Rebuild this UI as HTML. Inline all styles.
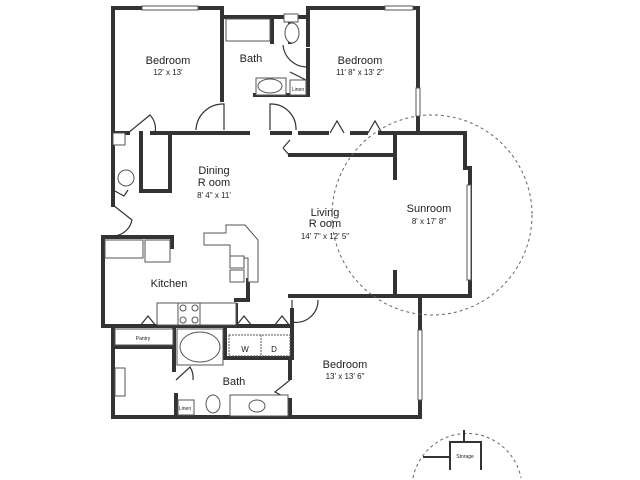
<!DOCTYPE html>
<html><head><meta charset="utf-8"><style>
html,body{margin:0;padding:0;background:#fff;width:640px;height:480px;overflow:hidden}
svg{display:block}
text{font-family:"Liberation Sans",sans-serif;fill:#222;text-anchor:middle}
.t{font-size:11px}.s{font-size:8px}.xs{font-size:5px}
</style></head><body>
<svg width="640" height="480" viewBox="0 0 640 480">
<g stroke="#333" stroke-width="4" fill="none" stroke-linecap="square">
<path d="M113 205 V8 H222 V100"/>
<path d="M222 17 H308 V8 H418 V133"/>
<path d="M113 133 H128 M152 133 H248 M272 133 H290"/>
<path d="M300 133 H327 M352 133 H366 M380 133 H465 V168 H470 V296 H290"/>
<path d="M290 155 H395 V178 M395 272 V296"/>
<path d="M395 133 V155"/>
<path d="M420 296 V417 H113 V326 H103 V237 H172 V247"/>
<path d="M141 133 V191 H170 V133"/>
<path d="M272 19 V42 M290 22 V42 M308 8 V45"/>
<path d="M222 17 V98 M255 95 H308 V50"/>
<path d="M103 326 H292 V358 H225 V326"/>
<path d="M236 305 V326"/>
<path d="M292 330 V310 M248 280 V300 H236"/>
<path d="M113 347 H174"/>
<path d="M174 326 V370 M176 395 V416"/>
<path d="M290 358 V378 M290 400 V416"/>
</g>
<g stroke="#555" stroke-width="1" fill="#fff">
<rect x="142" y="6" width="56" height="4"/>
<rect x="385" y="6" width="28" height="4"/>
<rect x="416" y="88" width="4" height="28"/>
<rect x="467" y="185" width="4" height="95"/>
<rect x="418" y="330" width="4" height="70"/>
</g>
<g stroke="#333" stroke-width="1.2" fill="none">
<path d="M196 130 A27 27 0 0 1 224 104 V130"/>
<path d="M296 130 A25 25 0 0 0 270 104 V130"/>
<path d="M283 45 A24 24 0 0 0 307 67"/>
<path d="M290 72 L306 80"/>
<path d="M128 133 L150 115 A20 20 0 0 1 155 133"/>
<path d="M113 205 L132 220 A20 20 0 0 1 113 236"/>
<path d="M292 300 V322 A22 22 0 0 0 318 300"/>
<path d="M176 380 L190 367 A20 20 0 0 1 193 380"/>
<path d="M290 400 L275 392 L290 380"/>
<path d="M140 326 L148 316 L156 326 M236 326 L244 316 L252 326 M274 326 L282 316 L290 326"/>
<path d="M330 133 L337 121 L344 133 M368 133 L375 121 L382 133"/>
<path d="M283 148 L290 140 M283 148 L290 156"/>
<path d="M113 190 L124 196 L128 190"/>
</g>
<g stroke="#555" stroke-width="1" fill="#fff">
<rect x="226" y="19" width="44" height="22"/>
<rect x="284" y="14" width="14" height="8"/>
<ellipse cx="292" cy="33" rx="7" ry="10"/>
<rect x="256" y="78" width="30" height="17"/>
<ellipse cx="270" cy="86" rx="12" ry="7"/>
<rect x="290" y="80" width="16" height="15"/>
<rect x="113" y="133" width="12" height="12"/>
<circle cx="126" cy="178" r="8"/>
<rect x="105" y="240" width="38" height="18"/>
<rect x="145" y="240" width="25" height="22"/>
<path d="M204 233 H226 V225 H245 L258 240 V282 H248 V258 H230 V245 H204 Z"/>
<rect x="230" y="256" width="14" height="12"/><rect x="230" y="270" width="14" height="12"/>
<rect x="157" y="303" width="79" height="22"/>
<rect x="178" y="303" width="22" height="22"/>
<circle cx="183" cy="308" r="3"/><circle cx="195" cy="308" r="3"/><circle cx="183" cy="320" r="3"/><circle cx="195" cy="320" r="3"/>
<rect x="115" y="329" width="58" height="16"/>
<rect x="177" y="329" width="46" height="36"/>
<ellipse cx="200" cy="347" rx="20" ry="15"/>
<rect x="115" y="368" width="10" height="28"/>
<rect x="229" y="335" width="61" height="21" stroke-dasharray="2 1"/>
<line x1="261" y1="335" x2="261" y2="356" stroke-dasharray="2 1"/>
<rect x="178" y="400" width="16" height="15"/>
<ellipse cx="213" cy="404" rx="7" ry="9"/>
<rect x="230" y="395" width="58" height="21"/>
<ellipse cx="257" cy="406" rx="8" ry="6"/>
</g>
<g stroke="#666" stroke-width="1" fill="none" stroke-dasharray="3 3">
<circle cx="432" cy="215" r="100"/>
<path d="M413 478 A55 55 0 0 1 521 478"/>
</g>
<g stroke="#333" stroke-width="2" fill="none">
<path d="M423 457 H450 M450 470 V442 H481 V470 M464 442 V430"/>
</g>
<text class="t" x="168" y="64">Bedroom</text><text class="s" x="168" y="75">12' x 13'</text>
<text class="t" x="251" y="62">Bath</text>
<text class="t" x="360" y="64">Bedroom</text><text class="s" x="360" y="75">11' 8" x 13' 2"</text>
<text class="xs" x="298" y="91">Linen</text>
<text class="t" x="214" y="174">Dining</text><text class="t" x="214" y="186">R oom</text><text class="s" x="214" y="198">8' 4" x 11'</text>
<text class="t" x="325" y="216">Living</text><text class="t" x="325" y="227">R oom</text><text class="s" x="325" y="239">14' 7" x 12' 5"</text>
<text class="t" x="429" y="212">Sunroom</text><text class="s" x="429" y="224">8' x 17' 8"</text>
<text class="t" x="169" y="287">Kitchen</text>
<text class="xs" x="143" y="340">Pantry</text>
<text class="s" x="245" y="352">W</text><text class="s" x="274" y="352">D</text>
<text class="t" x="345" y="368">Bedroom</text><text class="s" x="345" y="379">13' x 13' 6"</text>
<text class="t" x="234" y="385">Bath</text>
<text class="xs" x="185" y="410">Linen</text>
<text class="xs" x="465" y="458">Storage</text>
</svg>
</body></html>
